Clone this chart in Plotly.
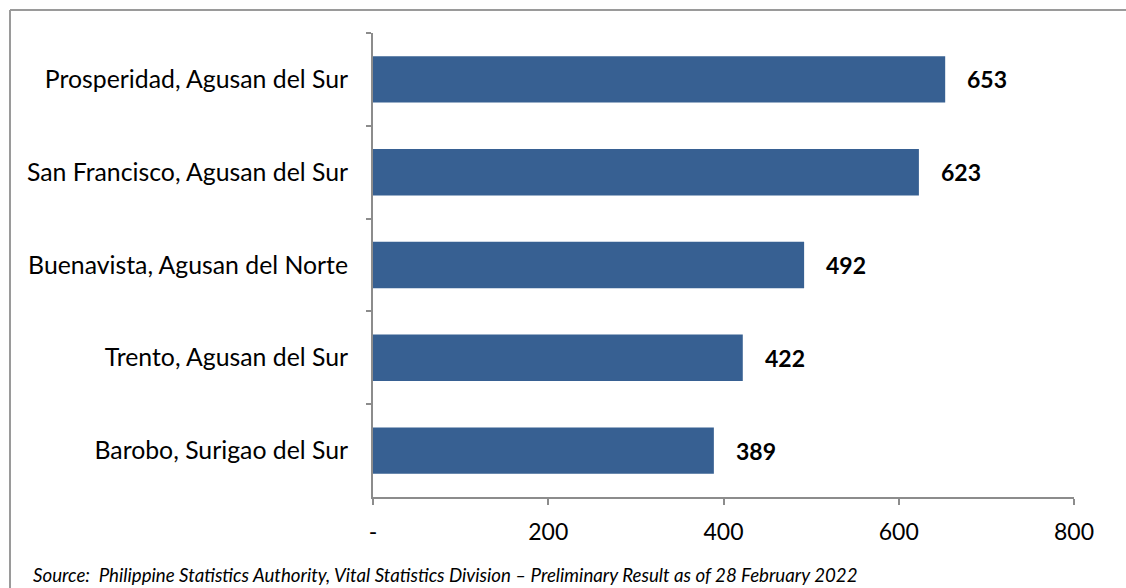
import plotly.graph_objects as go

categories = ["Prosperidad, Agusan del Sur", "San Francisco, Agusan del Sur",
              "Buenavista, Agusan del Norte", "Trento, Agusan del Sur",
              "Barobo, Surigao del Sur"]
values = [653, 623, 492, 422, 389]
tick_vals = [0, 200, 400, 600, 800]
tick_text = ["-", "200", "400", "600", "800"]
source = "Source:  Philippine Statistics Authority, Vital Statistics Division \u2013 Preliminary Result as of 28 February 2022"

FONT = "Lato"
BAR = "#376092"
AX = "#8c8c8c"

fig = go.Figure(go.Bar(
    x=values, y=categories, orientation="h",
    marker=dict(color=BAR, line=dict(width=0)),
    width=0.5, hoverinfo="skip",
))

for v, c in zip(values, categories):
    fig.add_annotation(x=v, y=c, text=f"<b>{v}</b>", showarrow=False,
                       xanchor="left", yanchor="middle", xshift=20, yshift=0,
                       font=dict(family=FONT, size=23, color="black"))

L, R, T, B = 373, 52, 33, 91
W, H = 1126, 588
pw, ph = W - L - R, H - T - B

def px(x):
    return (x - L) / pw

def py(y):
    return 1 - (y - T) / ph

fig.add_annotation(xref="paper", yref="paper", x=px(31), y=py(575),
                   text=f"<i>{source}</i>", showarrow=False,
                   xanchor="left", yanchor="middle",
                   font=dict(family=FONT, size=18.7, color="black"))

fig.add_shape(type="line", xref="paper", yref="paper",
              x0=px(10), x1=px(1130), y0=py(10), y1=py(10),
              line=dict(color="#9a9a9a", width=2))
fig.add_shape(type="line", xref="paper", yref="paper",
              x0=px(10), x1=px(10), y0=py(10), y1=py(600),
              line=dict(color="#9a9a9a", width=2))

fig.update_layout(
    width=W, height=H,
    margin=dict(l=L, r=R, t=T, b=B),
    plot_bgcolor="white", paper_bgcolor="white",
    showlegend=False,
    font=dict(family=FONT, size=22, color="black"),
    xaxis=dict(range=[0, 800], tickvals=tick_vals, ticktext=tick_text,
               showgrid=False, zeroline=False, showline=True, linecolor=AX,
               linewidth=2, ticks="outside", ticklen=6, tickcolor=AX,
               tickwidth=2, ticklabelstandoff=7,
               tickfont=dict(family=FONT, size=23, color="black")),
    yaxis=dict(categoryorder="array", categoryarray=categories,
               autorange="reversed", showgrid=False, zeroline=False,
               showline=True, linecolor=AX, linewidth=2, ticks="outside",
               tickson="boundaries", ticklen=5, tickcolor=AX, tickwidth=2,
               ticklabelstandoff=18,
               tickfont=dict(family=FONT, size=24.8, color="black")),
)

fig.write_html("out.html", config={"displayModeBar": False},
               post_script="document.body.style.margin='0';document.body.style.padding='0';")
